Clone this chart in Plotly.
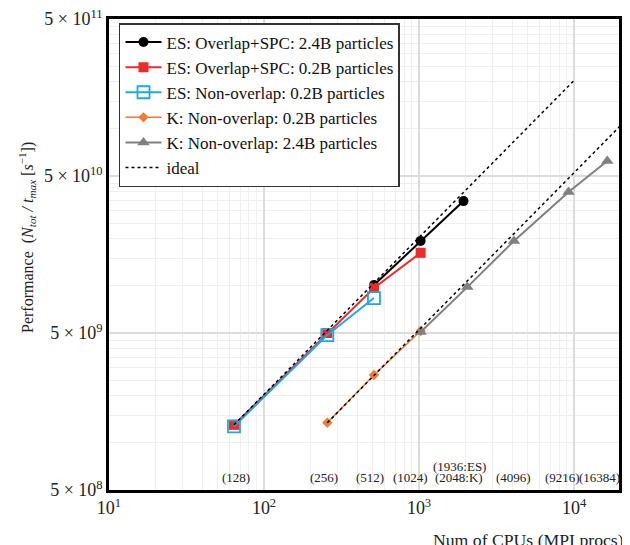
import numpy as np
import plotly.graph_objects as go

# ---- data ----
es_ovl_big_x = [512, 1024, 1936]
es_ovl_big_y = [1.01e10, 1.93e10, 3.46e10]

es_ovl_small_x = [64, 256, 512, 1024]
es_ovl_small_y = [1.30e9, 5.0e9, 9.67e9, 1.62e10]

es_non_small_x = [64, 256, 512]
es_non_small_y = [1.27e9, 4.85e9, 8.35e9]

k_non_small_x = [256, 512, 1024]
k_non_small_y = [1.34e9, 2.70e9, 5.15e9]

k_non_big_x = [1024, 2048, 4096, 9216, 16384]
k_non_big_y = [5.07e9, 9.8e9, 1.93e10, 3.95e10, 6.23e10]

ideal_es_x = [64, 10000]
ideal_es_y = [1.30e9, 2.03e11]
ideal_k_x = [256, 20000]
ideal_k_y = [1.34e9, 1.05e11]

x_tick_vals = [10, 100, 1000, 10000]
x_tick_text = ["10<sup>1</sup>", "10<sup>2</sup>", "10<sup>3</sup>", "10<sup>4</sup>"]
y_tick_vals = [5e8, 5e9, 5e10, 5e11]
y_tick_text = ["5 × 10<sup>8</sup>", "5 × 10<sup>9</sup>", "5 × 10<sup>10</sup>", "5 × 10<sup>11</sup>"]

cpu_labels = ["(128)", "(256)", "(512)", "(1024)", "(2048:K)", "(4096)", "(9216)", "(16384)"]
cpu_label_x = [64, 256, 512, 1024, 2048, 4096, 9216, 16384]
cpu_label_shift = [2, -3, -4, -10, -8, 0, -6, -8]
es_extra_label = "(1936:ES)"
es_extra_x = 1936

FONT = "Liberation Serif"

fig = go.Figure()

fig.add_trace(go.Scatter(x=es_ovl_big_x, y=es_ovl_big_y, mode="lines+markers",
                         name="ES: Overlap+SPC: 2.4B particles",
                         line=dict(color="#000000", width=2),
                         marker=dict(symbol="circle", size=10, color="#000000")))
fig.add_trace(go.Scatter(x=es_ovl_small_x, y=es_ovl_small_y, mode="lines+markers",
                         name="ES: Overlap+SPC: 0.2B particles",
                         line=dict(color="#ee2a2a", width=2),
                         marker=dict(symbol="square", size=10, color="#ee2a2a")))
fig.add_trace(go.Scatter(x=es_non_small_x, y=es_non_small_y, mode="lines+markers",
                         name="ES: Non-overlap: 0.2B particles",
                         line=dict(color="#1fa9e1", width=2),
                         marker=dict(symbol="square-open", size=12, color="#1fa9e1",
                                     line=dict(width=1.8, color="#1fa9e1"))))
fig.add_trace(go.Scatter(x=k_non_small_x, y=k_non_small_y, mode="lines+markers",
                         name="K: Non-overlap: 0.2B particles",
                         line=dict(color="#f07c35", width=1.5),
                         marker=dict(symbol="diamond", size=8, color="#f07c35")))
fig.add_trace(go.Scatter(x=k_non_big_x, y=k_non_big_y, mode="lines+markers",
                         name="K: Non-overlap: 2.4B particles",
                         line=dict(color="#808080", width=2),
                         marker=dict(symbol="triangle-up", size=11, color="#808080")))
fig.add_trace(go.Scatter(x=ideal_es_x, y=ideal_es_y, mode="lines", name="ideal",
                         line=dict(color="#000000", width=1.5, dash="dot")))
fig.add_trace(go.Scatter(x=ideal_k_x, y=ideal_k_y, mode="lines", name="ideal",
                         showlegend=False,
                         line=dict(color="#000000", width=1.5, dash="dot")))

x_minor = [k * 10 ** n for n in range(1, 5) for k in range(2, 10)]
y_minor = [5 * k * 10 ** n for n in range(8, 11) for k in range(2, 10)]

fig.update_xaxes(type="log", range=[1, 4.29], automargin=False,
                 tickmode="array", tickvals=x_tick_vals, ticktext=x_tick_text,
                 ticklabeloverflow="allow",
                 showgrid=True, gridcolor="#dcdcdc", gridwidth=1.5,
                 minor=dict(tickvals=x_minor, showgrid=True, gridcolor="#efefef", gridwidth=1, ticks=""),
                 showline=True, linecolor="#000000", linewidth=2.5, mirror=True,
                 ticks="", zeroline=False,
                 tickfont=dict(family=FONT, size=18, color="#222222"))
fig.update_yaxes(type="log", range=[np.log10(5e8), np.log10(5e11) + 1e-9], automargin=False,
                 tickmode="array", tickvals=y_tick_vals, ticktext=y_tick_text,
                 ticklabeloverflow="allow",
                 showgrid=True, gridcolor="#dcdcdc", gridwidth=1.5,
                 minor=dict(tickvals=y_minor, showgrid=True, gridcolor="#efefef", gridwidth=1, ticks=""),
                 showline=True, linecolor="#000000", linewidth=2.5, mirror=True,
                 ticks="", zeroline=False,
                 tickfont=dict(family=FONT, size=18, color="#222222"))

annotations = []
for lab, xv, sh in zip(cpu_labels, cpu_label_x, cpu_label_shift):
    annotations.append(dict(x=np.log10(xv), y=0.0255, xref="x", yref="paper", text=lab,
                            showarrow=False, xshift=sh, xanchor="center", yanchor="middle",
                            font=dict(family=FONT, size=13, color="#222222")))
annotations.append(dict(x=np.log10(es_extra_x), y=0.05, xref="x", yref="paper", text=es_extra_label,
                        showarrow=False, xshift=-4, xanchor="center", yanchor="middle",
                        font=dict(family=FONT, size=13, color="#222222")))
annotations.append(dict(x=-0.161, y=0.537, xref="paper", yref="paper", textangle=-90,
                        text="Performance  (<i>N</i><sub><i>tot</i></sub><i> / t</i><sub><i>max</i></sub> [<i>s</i><sup>−1</sup>])",
                        showarrow=False, xanchor="center", yanchor="middle",
                        font=dict(family=FONT, size=16, color="#222222")))
annotations.append(dict(x=1.0137, y=-0.106, xref="paper", yref="paper",
                        text="Num of CPUs (MPI procs)", showarrow=False,
                        xanchor="right", yanchor="middle",
                        font=dict(family=FONT, size=17.7, color="#222222")))

# the page body adds an 8px offset, so the figure is 8px smaller on each axis
fig.update_layout(
    width=622, height=537,
    margin=dict(l=101, r=11, t=11, b=55, autoexpand=False),
    paper_bgcolor="white", plot_bgcolor="white",
    showlegend=True,
    legend=dict(x=0.0196, y=0.9915, xanchor="left", yanchor="top",
                bgcolor="white", bordercolor="#333333", borderwidth=1.5,
                font=dict(family=FONT, size=17, color="#111111"),
                itemwidth=36, tracegroupgap=0),
    annotations=annotations,
)

fig.write_html("out.html")
